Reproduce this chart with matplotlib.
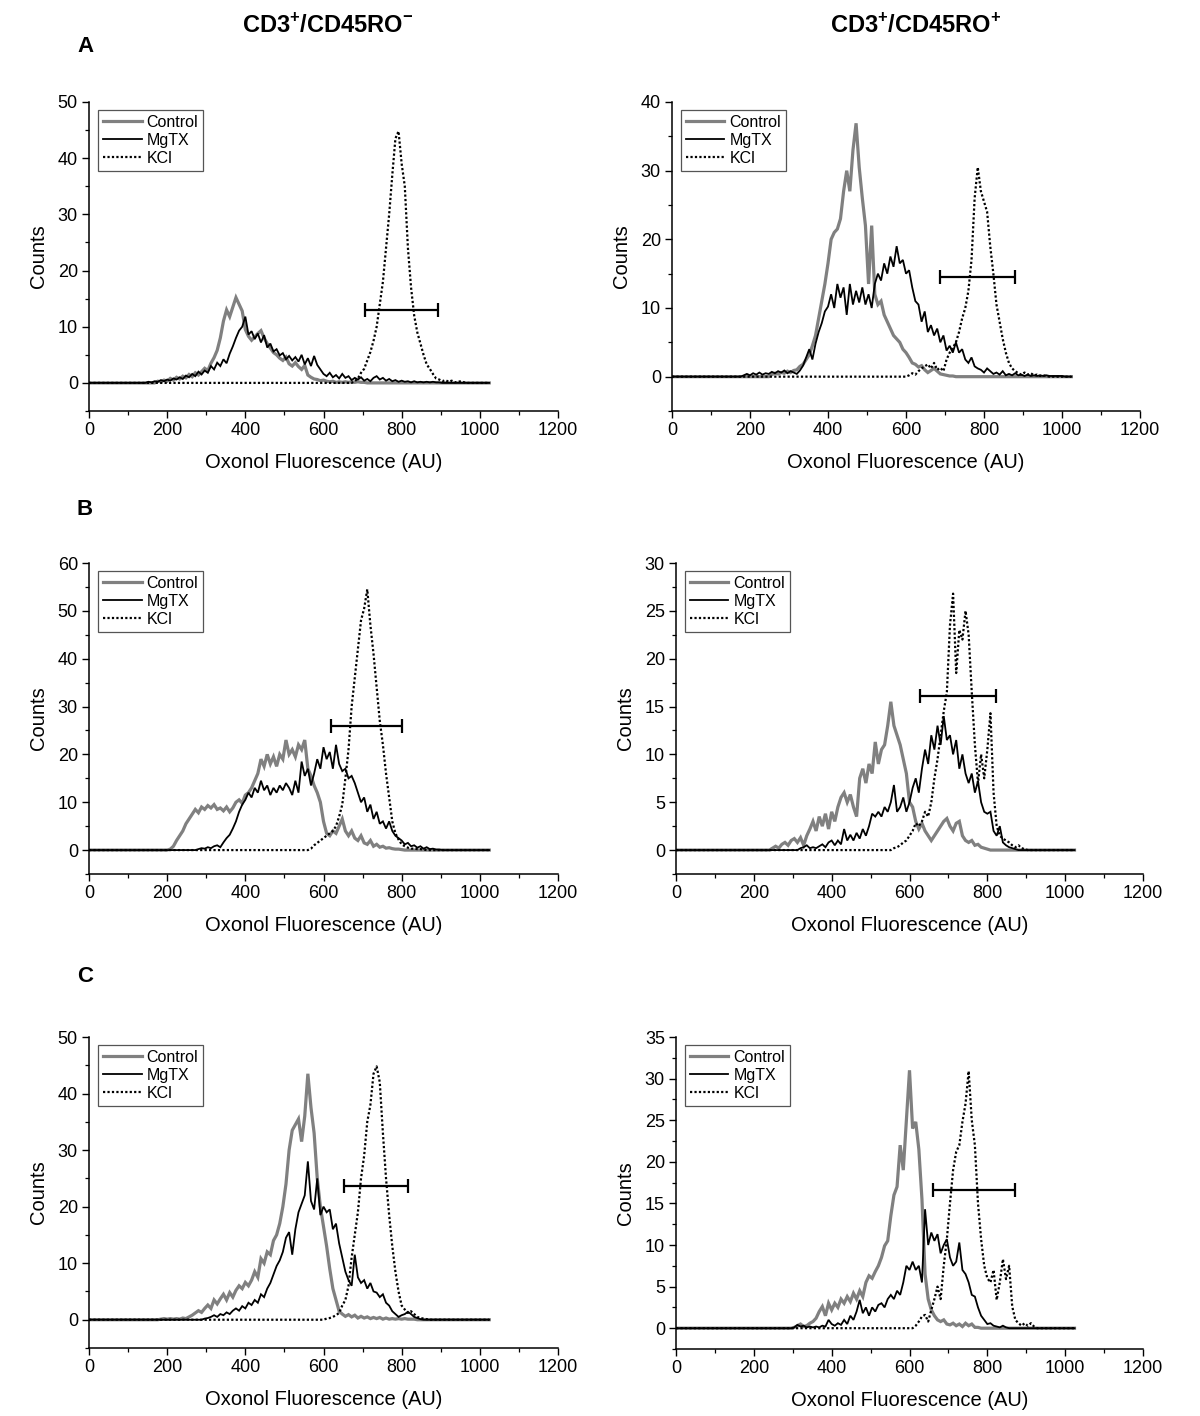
import numpy as np
import matplotlib
matplotlib.use("Agg")
import matplotlib.pyplot as plt

plt.rcParams['font.family'] = ['Liberation Sans', 'DejaVu Sans']
plt.rcParams['mathtext.fontset'] = 'custom'
plt.rcParams['mathtext.rm'] = 'Liberation Sans'
plt.rcParams['mathtext.bf'] = 'Liberation Sans:bold'

# ---------------- data (counts per 8-AU bin, starting at the given AU) -------------
bins = np.arange(0, 1025, 8)

A_left_control_start = 176
A_left_control = [0.3,0.2,0.5,0.3,0.8,0.5,1.0,0.7,1.2,0.9,1.5,1.1,1.8,1.4,2.0,2.6,2.2,3.5,4.5,5.8,8.0,11.0,13.0,11.8,13.5,15.2,14.0,12.8,9.5,8.3,7.6,8.2,8.8,9.3,8.0,7.0,6.2,5.4,5.0,4.4,4.0,4.6,3.4,3.0,3.6,2.9,2.4,3.1,1.4,1.0,0.7,0.6,0.4,0.5,0.3,0.2,0.3,0.1,0.2,0.1,0.2,0.1,0.2,0.1,0.2,0.1,0.1]
A_left_mgtx_start = 152
A_left_mgtx = [0.2,0.1,0.3,0.2,0.5,0.3,0.6,0.4,0.8,0.6,1.0,0.7,1.3,1.0,1.6,1.2,2.0,1.5,2.2,1.8,3.0,2.4,3.6,3.0,4.2,3.5,5.2,6.5,8.0,9.3,10.0,11.8,8.6,9.2,7.8,8.8,7.2,8.5,6.3,7.0,5.6,6.0,4.9,5.3,4.2,4.8,4.0,4.6,3.8,5.0,3.3,4.4,3.0,4.8,3.2,2.4,1.6,1.2,1.8,1.0,1.4,0.8,1.6,0.9,1.2,0.5,0.9,0.6,1.0,0.4,0.7,0.3,0.9,1.2,0.6,0.9,0.4,0.7,0.3,0.5,0.2,0.4,0.2,0.3,0.1,0.3,0.1,0.2,0.1,0.2,0.1,0.2,0.1,0.1]
A_left_kcl_start = 680
A_left_kcl = [0.3,0.8,1.8,2.5,4.0,5.5,7.5,10.0,14.0,18.0,24.0,30.0,37.0,43.5,44.8,39.0,35.0,24.0,17.0,12.0,9.0,7.0,5.0,3.3,2.5,1.6,0.8,0.6,0.3,0.5,0.2,0.4,0.1,0.2,0.3,0.1]

A_right_control_start = 256
A_right_control = [0.3,0.5,0.4,0.6,0.5,0.8,0.6,0.9,1.0,1.5,1.8,2.5,3.2,4.5,6.0,8.5,11.0,13.5,16.5,20.0,21.0,21.5,23.0,27.0,30.0,27.0,33.0,36.9,30.5,26.0,22.0,13.5,22.0,12.0,10.5,11.0,9.0,8.0,7.0,6.0,5.5,5.0,4.0,3.5,2.8,2.0,1.8,1.4,1.6,1.0,0.6,0.9,1.2,0.8,0.4,0.3,0.2,0.1,0.1]
A_right_mgtx_start = 184
A_right_mgtx = [0.2,0.4,0.2,0.5,0.3,0.6,0.3,0.5,0.4,0.7,0.5,0.8,0.6,0.9,0.5,0.8,0.6,0.4,0.9,1.6,2.8,4.0,2.5,4.8,6.5,7.8,9.5,10.2,12.0,10.0,13.5,11.5,13.0,9.0,13.5,10.5,12.5,10.8,13.0,10.5,12.0,10.0,13.5,15.0,14.0,16.5,15.0,17.5,16.0,19.0,16.5,17.0,15.0,15.5,13.0,11.0,10.5,8.0,9.5,6.5,7.5,6.0,7.0,5.0,6.0,3.8,4.5,3.5,5.0,3.5,4.0,2.5,2.0,2.8,1.5,1.2,1.0,0.6,1.2,0.8,0.4,0.6,0.3,0.8,0.2,0.4,0.2,0.5,0.2,0.3,0.1,0.3,0.1,0.2,0.1,0.2,0.1,0.2,0.1,0.1,0.1,0.1,0.1]
A_right_kcl_start = 608
A_right_kcl = [0.2,0.5,0.3,0.8,1.2,1.5,1.8,1.2,2.0,1.0,1.3,0.8,2.5,3.5,4.2,5.0,6.5,8.5,10.0,12.5,17.0,26.0,30.5,27.0,25.5,24.0,19.0,15.0,10.5,8.0,5.5,3.5,2.0,1.2,0.8,0.5,0.3,0.6,0.3,0.5,0.2,0.3,0.1,0.2,0.1]

B_left_control_start = 208
B_left_control = [0.2,0.8,2.0,3.0,4.0,5.5,6.5,7.5,8.5,7.8,9.0,8.5,9.3,8.8,9.5,8.5,8.8,8.2,9.0,8.0,8.8,10.0,10.5,9.8,11.5,12.0,13.0,14.5,16.0,19.0,17.5,20.0,18.0,19.5,17.5,20.0,19.0,23.0,20.0,21.0,19.5,22.0,21.0,23.0,17.0,15.5,13.5,12.0,10.0,6.0,3.5,3.0,4.0,3.5,5.0,6.5,4.0,3.0,4.0,2.5,2.0,3.0,1.5,1.2,2.0,0.8,1.2,0.6,0.8,0.4,0.5,0.3,0.2,0.2,0.1]
B_left_mgtx_start = 280
B_left_mgtx = [0.2,0.4,0.3,0.6,0.4,0.8,1.0,0.6,1.6,2.5,3.2,4.5,6.0,8.0,9.5,10.5,12.0,11.0,13.0,12.0,14.5,12.5,13.5,11.5,13.0,12.0,13.5,12.5,14.0,13.0,11.5,14.5,12.0,18.5,15.5,17.0,13.5,16.0,19.0,17.0,21.5,19.0,20.5,17.0,22.0,18.0,16.5,17.0,15.0,15.5,14.0,12.0,10.0,11.0,8.0,9.5,6.5,8.0,5.5,6.0,4.5,6.0,4.0,3.0,2.5,2.0,1.2,1.5,0.8,1.0,0.5,0.8,0.3,0.6,0.2,0.3,0.1,0.1]
B_left_kcl_start = 568
B_left_kcl = [0.3,1.0,1.5,2.0,2.5,3.0,3.5,4.0,5.0,7.0,9.5,15.0,21.0,30.0,36.0,42.0,48.0,50.5,54.5,47.0,41.0,34.0,27.0,22.0,16.0,11.0,6.0,3.5,2.2,1.2,0.8,0.5,0.3,0.3,0.2,0.2,0.1]

B_right_control_start = 248
B_right_control = [0.2,0.4,0.2,0.6,0.8,0.5,1.0,1.2,0.8,1.3,0.5,1.5,2.2,3.0,2.0,3.5,2.5,3.8,2.2,4.0,3.0,4.5,5.5,6.0,5.0,5.8,4.5,3.5,7.5,8.5,7.0,9.0,8.0,11.3,9.0,10.5,11.0,13.0,15.5,13.0,12.0,11.0,9.5,8.0,5.0,4.5,3.0,2.2,2.8,2.0,1.5,1.0,1.5,2.0,2.5,3.0,3.3,2.5,2.0,2.8,3.0,1.5,1.0,0.8,1.0,0.5,0.6,0.3,0.2,0.1]
B_right_mgtx_start = 320
B_right_mgtx = [0.2,0.3,0.5,0.2,0.3,0.2,0.4,0.6,0.3,0.8,1.0,0.5,1.0,0.6,2.2,1.0,1.6,1.0,1.8,1.2,2.2,1.5,2.5,3.8,3.5,4.0,3.5,4.5,4.0,5.0,6.8,4.0,4.5,5.5,4.0,5.0,6.5,7.5,6.0,8.5,10.5,9.0,12.0,10.5,13.0,11.0,14.0,11.5,12.0,10.0,11.5,8.5,10.0,8.0,7.0,8.0,6.0,7.2,5.0,4.0,3.8,4.0,2.0,1.5,2.5,0.8,0.5,0.3,0.2,0.1]
B_right_kcl_start = 560
B_right_kcl = [0.2,0.3,0.5,0.8,1.0,1.5,2.0,2.8,2.5,3.0,4.0,3.5,5.0,7.5,9.5,12.0,14.5,16.5,23.5,26.8,18.5,23.0,22.0,25.0,22.5,16.5,11.0,7.0,10.0,7.5,10.5,14.3,6.0,2.5,1.5,1.2,1.0,0.8,0.5,0.3,0.5,0.2,0.1]

C_left_control_start = 184
C_left_control = [0.1,0.2,0.1,0.2,0.1,0.2,0.1,0.3,0.2,0.5,0.8,1.2,1.6,1.3,2.0,2.6,2.0,3.5,2.8,3.7,4.5,3.5,4.8,4.0,5.2,6.0,5.5,6.6,6.0,7.0,8.5,7.5,10.8,10.0,12.0,11.5,14.0,15.0,17.0,20.0,24.0,30.0,33.5,34.5,35.5,31.5,36.0,43.5,37.5,33.0,25.0,20.0,16.5,13.0,9.0,5.5,3.5,1.5,1.0,0.6,0.9,0.5,0.8,0.3,0.6,0.3,0.5,0.2,0.4,0.2,0.4,0.1,0.3,0.1,0.2,0.1,0.2,0.1,0.2,0.1,0.1,0.1]
C_left_mgtx_start = 296
C_left_mgtx = [0.2,0.3,0.5,0.8,0.5,1.0,0.8,1.3,1.0,1.6,2.0,1.6,2.4,2.0,3.0,2.6,3.5,3.0,4.5,4.0,5.5,6.5,8.0,9.5,10.5,12.0,14.5,15.5,11.5,16.0,19.0,20.5,22.0,28.0,21.0,19.5,25.0,18.5,20.0,19.0,19.5,16.0,17.0,13.5,11.0,8.5,7.0,6.0,11.5,7.5,6.5,7.0,5.5,6.5,5.0,4.8,4.0,4.5,3.0,2.5,1.5,1.0,0.5,0.8,1.0,1.4,1.0,0.5,0.3,0.1]
C_left_kcl_start = 608
C_left_kcl = [0.2,0.3,0.5,0.8,1.2,2.5,3.5,6.0,11.0,15.0,19.0,25.0,29.0,35.0,38.0,43.5,44.8,42.0,33.0,25.0,18.5,13.0,8.5,5.0,2.5,1.8,1.2,1.5,1.0,0.5,0.3,0.2,0.1]

C_right_control_start = 304
C_right_control = [0.1,0.3,0.5,0.2,0.3,0.6,0.8,1.2,2.0,2.6,1.5,3.0,2.2,3.0,2.5,3.5,3.0,3.8,3.2,4.2,3.5,4.5,3.8,5.5,6.3,6.0,6.8,7.5,8.5,9.9,10.5,13.5,16.0,17.0,22.0,19.0,25.0,31.0,24.0,24.8,21.5,15.5,6.5,3.5,2.2,1.5,1.0,0.8,1.0,0.5,0.4,0.6,0.3,0.5,0.2,0.6,0.3,0.5,0.1,0.1]
C_right_mgtx_start = 304
C_right_mgtx = [0.1,0.4,0.2,0.3,0.1,0.2,0.1,0.2,0.1,0.3,0.2,1.0,0.5,0.3,0.6,0.4,1.0,0.5,1.5,1.0,2.0,3.4,1.8,2.5,1.5,2.5,2.0,2.8,3.0,2.5,3.5,4.0,3.5,4.5,4.0,5.5,7.5,7.0,8.0,7.0,7.5,5.5,14.3,10.0,11.5,10.5,11.3,9.0,10.0,10.7,8.5,7.5,8.0,10.3,7.0,6.5,5.5,4.0,3.8,2.5,1.5,1.0,0.5,0.6,0.3,0.2,0.1,0.3,0.1]
C_right_kcl_start = 616
C_right_kcl = [0.3,0.8,1.4,1.6,0.8,2.2,3.5,5.0,3.5,7.5,10.7,15.0,19.0,21.2,22.0,24.8,27.0,30.9,25.0,22.0,15.0,10.7,7.5,6.0,5.5,7.0,3.4,5.5,8.3,5.9,7.5,2.6,1.0,0.6,0.3,0.6,0.3,0.6,0.2]

# gate bars (low AU, high AU, height in counts)
bar_lo = [705, 688, 620, 628, 652, 660]
bar_hi = [893, 880, 800, 822, 816, 870]
bar_y = [13.0, 14.5, 26.0, 16.1, 23.7, 16.6]

y_max = [50, 40, 60, 30, 50, 35]
y_min = [-5, -5, -5, -2.5, -5, -2.5]
y_major = [10, 10, 10, 5, 10, 5]

series_sets = [
    ((A_left_control_start, A_left_control), (A_left_mgtx_start, A_left_mgtx), (A_left_kcl_start, A_left_kcl)),
    ((A_right_control_start, A_right_control), (A_right_mgtx_start, A_right_mgtx), (A_right_kcl_start, A_right_kcl)),
    ((B_left_control_start, B_left_control), (B_left_mgtx_start, B_left_mgtx), (B_left_kcl_start, B_left_kcl)),
    ((B_right_control_start, B_right_control), (B_right_mgtx_start, B_right_mgtx), (B_right_kcl_start, B_right_kcl)),
    ((C_left_control_start, C_left_control), (C_left_mgtx_start, C_left_mgtx), (C_left_kcl_start, C_left_kcl)),
    ((C_right_control_start, C_right_control), (C_right_mgtx_start, C_right_mgtx), (C_right_kcl_start, C_right_kcl)),
]
labels = ["Control", "MgTX", "KCl"]
col_titles = [r"CD3$^{\mathbf{+}}$/CD45RO$^{\mathbf{-}}$", r"CD3$^{\mathbf{+}}$/CD45RO$^{\mathbf{+}}$"]
panel_letters = ["A", "B", "C"]


def expand(start, vals):
    y = np.zeros(len(bins))
    i0 = start // 8
    y[i0:i0 + len(vals)] = vals
    return y


W, H = 1200, 1416
fig = plt.figure(figsize=(W / 100, H / 100), dpi=100)

# axes rectangles in pixels: (left, top, right, bottom)
rects = [
    (89, 102, 558, 411), (672, 102, 1140, 411),
    (89, 563, 558, 874), (676, 563, 1143, 874),
    (89, 1037, 558, 1348), (676, 1037, 1143, 1349),
]

styles = [
    dict(color="#808080", lw=2.3, ls="-"),
    dict(color="black", lw=1.3, ls="-"),
    dict(color="black", lw=1.6, ls=(0, (1, 1))),
]

for k, (l, t, r, b) in enumerate(rects):
    ax = fig.add_axes([l / W, 1 - b / H, (r - l) / W, (b - t) / H])
    for (start, vals), st, lab in zip(series_sets[k], styles, labels):
        ax.plot(bins, expand(start, vals), label=lab, solid_joinstyle="miter", **st)
    mid = (bar_lo[k] + bar_hi[k]) / 2
    half = (bar_hi[k] - bar_lo[k]) / 2
    ax.errorbar([mid], [bar_y[k]], xerr=[half], fmt="none", ecolor="black",
                elinewidth=1.6, capsize=5, capthick=1.6)
    ax.set_xlim(0, 1200)
    ax.set_ylim(y_min[k], y_max[k])
    ax.set_xticks(np.arange(0, 1201, 200))
    ax.set_xticks(np.arange(0, 1201, 100), minor=True)
    ax.set_yticks(np.arange(0, y_max[k] + 0.1, y_major[k]))
    ax.set_yticks(np.arange(y_min[k], y_max[k] + 0.1, y_major[k] / 2), minor=True)
    for s in ("top", "right"):
        ax.spines[s].set_visible(False)
    for s in ("left", "bottom"):
        ax.spines[s].set_linewidth(1.1)
    ax.tick_params(which="major", direction="out", length=5, width=1.0, labelsize=13, pad=3)
    ax.tick_params(which="minor", direction="out", length=3, width=0.9)
    ax.set_xlabel("Oxonol Fluorescence (AU)", fontsize=14.5, labelpad=10)
    ax.set_ylabel("Counts", fontsize=14.5, labelpad=7)
    leg = ax.legend(loc="upper left", bbox_to_anchor=(0.02, 0.975), borderaxespad=0,
                    fontsize=11.5, frameon=True, fancybox=False, edgecolor="#555555",
                    framealpha=1, handlelength=2.4, handletextpad=0.3, labelspacing=0.2,
                    borderpad=0.3)
    leg.get_frame().set_linewidth(0.9)

for j, x in enumerate([328, 916]):
    fig.text(x / W, 1 - 26 / H, col_titles[j], ha="center", va="center",
             fontsize=17, fontweight="bold")
for j, y in enumerate([47, 510, 977]):
    fig.text(85 / W, 1 - y / H, panel_letters[j], ha="center", va="center",
             fontsize=16, fontweight="bold")

fig.savefig("out.png", dpi=100)
